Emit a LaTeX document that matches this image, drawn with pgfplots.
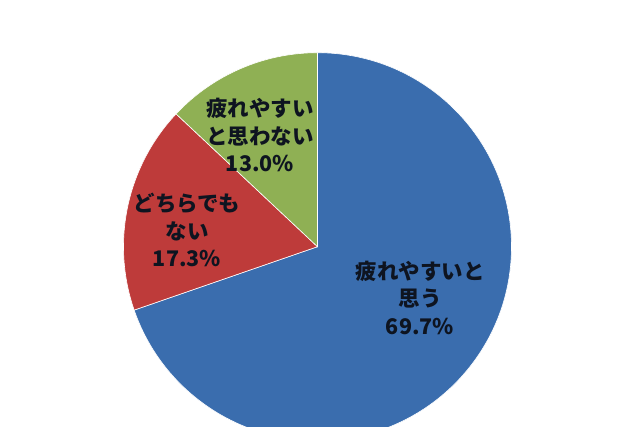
\documentclass[border=0pt]{standalone}
\usepackage{pgfplots}
\pgfplotsset{compat=1.18}
\usepackage{fontspec}
\newfontfamily\jp{Noto Sans CJK JP}
\definecolor{pieblue}{HTML}{3A6DAE}
\definecolor{piered}{HTML}{BE3B3A}
\definecolor{piegreen}{HTML}{8FB054}
\definecolor{labtext}{HTML}{0E1420}
\begin{document}
\begin{tikzpicture}
  \begin{axis}[
    width=640pt, height=426pt, scale only axis,
    xmin=0, xmax=640, ymin=0, ymax=426,
    hide axis]
    % shares in percent, clockwise from the top
    \gdef\sa{90}
    \foreach \v/\col in {69.7/pieblue,17.3/piered,13.0/piegreen}{
      \pgfmathsetmacro\ea{\sa-3.6*\v}
      \edef\temp{\noexpand\fill[\col,draw=white,line width=0.6pt]
        (axis cs:317.5,179.3) -- ++(\sa:194pt)
        arc[start angle=\sa,end angle=\ea,radius=194pt] -- cycle;}
      \temp
      \xdef\sa{\ea}
    }
    \tikzset{lab/.style={align=center,text=labtext,
      font=\jp\bfseries\fontsize{21.5}{27.5}\selectfont}}
    \node[lab] at (axis cs:420,128.5) {疲れやすいと\\思う\\69.7\%};
    \node[lab] at (axis cs:187,196) {どちらでも\\ない\\17.3\%};
    \node[lab] at (axis cs:260,291) {疲れやすい\\と思わない\\13.0\%};
    \coordinate (bbsw) at (rel axis cs:0,0);
    \coordinate (bbne) at (rel axis cs:1,1);
  \end{axis}
  \pgfresetboundingbox
  \path (bbsw) rectangle (bbne);
\end{tikzpicture}
\end{document}
